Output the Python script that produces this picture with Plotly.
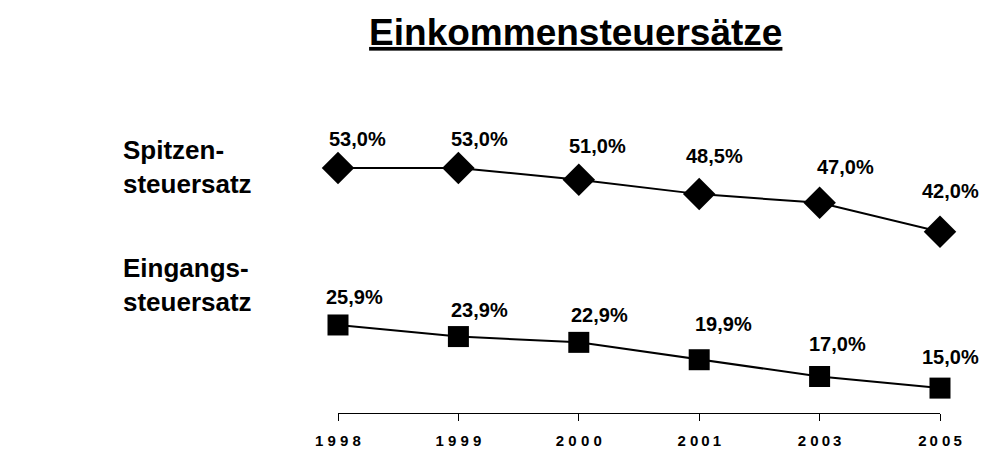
import plotly.graph_objects as go

years = ["1998", "1999", "2000", "2001", "2003", "2005"]
tick_labels = ["1 9 9 8", "1 9 9 9", "2 0 0 0",
               "2 0\u20090\u20091", "2 0\u20090\u20093", "2\u20090 0\u20095"]
spitzen = [53.0, 53.0, 51.0, 48.5, 47.0, 42.0]
eingang = [25.9, 23.9, 22.9, 19.9, 17.0, 15.0]

# label offsets (pixels) relative to the markers
spitzen_dy = [29, 29, 34, 38, 36, 41]
spitzen_dx = [19, 21, 19, 15, 26, 10]
eingang_dy = [28, 27, 27, 36, 33, 31]
eingang_dx = [16, 21, 21, 24, 18, 10]

def fmt(v):
    return f"{v:.1f}".replace(".", ",") + "%"

fig = go.Figure()
fig.add_trace(go.Scatter(x=years, y=spitzen, mode="lines+markers",
                         line=dict(color="black", width=2),
                         marker=dict(symbol="diamond", size=25, color="black"),
                         cliponaxis=False, showlegend=False, hoverinfo="skip"))
fig.add_trace(go.Scatter(x=years, y=eingang, mode="lines+markers",
                         line=dict(color="black", width=2),
                         marker=dict(symbol="square", size=21, color="black"),
                         cliponaxis=False, showlegend=False, hoverinfo="skip"))

lab_font = dict(family="Liberation Sans, Arial", size=20, color="black", weight="bold")
ann = []
for i, (v, dx, dy) in enumerate(zip(spitzen, spitzen_dx, spitzen_dy)):
    ann.append(dict(x=i, y=v, xref="x", yref="y", text=fmt(v), showarrow=False,
                    xshift=dx, yshift=dy, font=lab_font))
for i, (v, dx, dy) in enumerate(zip(eingang, eingang_dx, eingang_dy)):
    ann.append(dict(x=i, y=v, xref="x", yref="y", text=fmt(v), showarrow=False,
                    xshift=dx, yshift=dy, font=lab_font))

side_font = dict(family="Liberation Sans, Arial", size=26, color="black", weight="bold")
ann.append(dict(xref="paper", yref="paper", x=-0.361, y=0.84, xanchor="left", yanchor="middle",
                text="Spitzen-<br>steuersatz", align="left", showarrow=False, font=side_font))
ann.append(dict(xref="paper", yref="paper", x=-0.361, y=0.437, xanchor="left", yanchor="middle",
                text="Eingangs-<br>steuersatz", align="left", showarrow=False, font=side_font))

fig.update_layout(
    width=991, height=449,
    margin=dict(l=338, r=51, t=120, b=36, autoexpand=False),
    paper_bgcolor="white", plot_bgcolor="white",
    title=dict(text="<u>Einkommensteuersätze</u>", x=0.581, xanchor="center",
               y=1 - 32 / 449, yanchor="middle",
               font=dict(family="Liberation Sans, Arial", size=37, color="black", weight="bold")),
    annotations=ann,
    xaxis=dict(type="category", range=[0, 5], showgrid=False, zeroline=False, automargin=False,
               showline=True, linecolor="black", linewidth=1,
               ticks="outside", ticklen=7, tickcolor="black", tickwidth=1,
               tickvals=years, ticktext=tick_labels, ticklabelstandoff=7,
               tickfont=dict(family="Liberation Sans, Arial", size=15, color="black", weight="bold")),
    yaxis=dict(range=[10.7, 61.3], visible=False, automargin=False),
)

fig.write_html("out.html", config={"displayModeBar": False},
               post_script="document.body.style.margin='0px';document.body.style.overflow='hidden';")
